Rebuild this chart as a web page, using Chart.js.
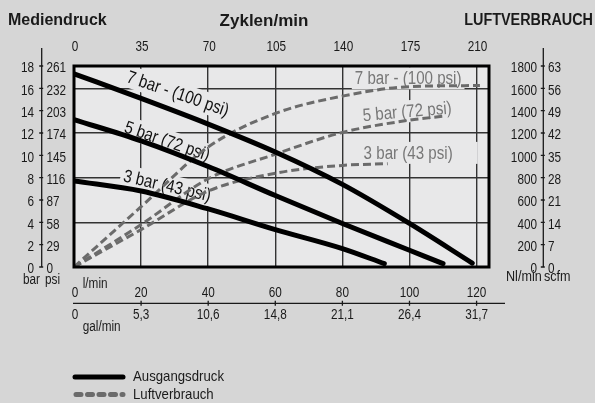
<!DOCTYPE html>
<html>
<head>
<meta charset="utf-8">
<script src="https://cdn.jsdelivr.net/npm/chart.js@4.4.1/dist/chart.umd.min.js"></script>
<style>
  html, body { margin: 0; padding: 0; background: #d6d6d6; }
  #chart { display: block; }
</style>
</head>
<body>
<canvas id="chart" width="595" height="403"></canvas>
<script>
// Achsen
const flowTicks = [0, 20, 40, 60, 80, 100, 120];
const galTicks = ["0", "5,3", "10,6", "14,8", "21,1", "26,4", "31,7"];
const cycleTicks = [0, 35, 70, 105, 140, 175, 210];
const barTicks = [0, 2, 4, 6, 8, 10, 12, 14, 16, 18];
const psiTicks = [0, 29, 58, 87, 116, 145, 174, 203, 232, 261];
const nlTicks = [0, 200, 400, 600, 800, 1000, 1200, 1400, 1600, 1800];
const scfmTicks = [0, 7, 14, 21, 28, 35, 42, 49, 56, 63];
const gridBar = [0, 4, 8, 12, 16];

// Ausgangsdruck (l/min -> bar)
const druck7Flow = [0, 20, 40, 60, 80, 100, 118.7];
const druck7Bar = [17.3, 15.1, 12.8, 10.3, 7.4, 3.9, 0.35];
const druck5Flow = [0, 20, 40, 60, 80, 100, 110];
const druck5Bar = [13.2, 11.3, 9.0, 6.4, 3.9, 1.5, 0.3];
const druck3Flow = [0, 20, 40, 60, 80, 92.5];
const druck3Bar = [7.7, 6.8, 5.2, 3.35, 1.65, 0.3];

// Luftverbrauch (l/min -> Nl/min)
const luft7Flow = [0, 20, 40, 60, 80, 100, 121];
const luft7Nl = [0, 540, 1075, 1375, 1530, 1615, 1625];
const luft5Flow = [0, 20, 40, 60, 80, 100, 110];
const luft5Nl = [0, 380, 790, 1010, 1205, 1315, 1350];
const luft3Flow = [0, 20, 40, 60, 80, 93.5];
const luft3Nl = [0, 335, 680, 840, 910, 925];

const seriesNames = ["Ausgangsdruck", "Luftverbrauch"];

const X_MAX = 123.7;
const SANS = '"Liberation Sans", Arial, sans-serif';
const SX = 0.84; // schmale Schrift nachbilden
const PAGE_BG = "#d6d6d6";
const PLOT_BG = "#e8e8e9";
const DASH_COLOR = "#6b6b6b";
const LABEL_COLOR = "#777777";
const TEXT = "#1a1a1a";

// Beschriftungen an den Kurven (in Datenkoordinaten)
const curveLabels = [
  { text: "7 bar - (100 psi)", flow: 31.0, value: 15.55, axis: "y", angle: 19, color: "#111" },
  { text: "5 bar (72 psi)", flow: 27.8, value: 11.3, axis: "y", angle: 19, color: "#111" },
  { text: "3 bar (43 psi)", flow: 27.8, value: 7.3, axis: "y", angle: 13, color: "#111" },
  { text: "7 bar - (100 psi)", flow: 99.6, value: 1690, axis: "y2", angle: 0, color: LABEL_COLOR },
  { text: "5 bar (72 psi)", flow: 99.3, value: 1394, axis: "y2", angle: -5, color: LABEL_COLOR },
  { text: "3 bar (43 psi)", flow: 99.6, value: 1022, axis: "y2", angle: 0, color: LABEL_COLOR, padRight: 22 },
];

function pts(xs, ys) {
  return xs.map((x, i) => ({ x, y: ys[i] }));
}

function solid(data) {
  return {
    data, yAxisID: "y", borderColor: "#000", borderWidth: 5,
    borderCapStyle: "round", pointRadius: 0, cubicInterpolationMode: "monotone", fill: false,
  };
}

function dashed(data) {
  return {
    data, yAxisID: "y2", borderColor: DASH_COLOR, borderWidth: 3, borderDash: [8, 4],
    pointRadius: 0, cubicInterpolationMode: "monotone", fill: false,
  };
}

function text(ctx, str, x, y, align, sx = SX) {
  ctx.save();
  ctx.translate(x, y);
  ctx.scale(sx, 1);
  ctx.textAlign = align;
  ctx.fillText(str, 0, 0);
  ctx.restore();
}

const deco = {
  id: "deco",
  beforeDraw(chart) {
    const { ctx, chartArea: a } = chart;
    ctx.save();
    ctx.fillStyle = PAGE_BG;
    ctx.fillRect(0, 0, chart.width, chart.height);
    ctx.fillStyle = PLOT_BG;
    ctx.fillRect(a.left, a.top, a.right - a.left, a.bottom - a.top);
    ctx.restore();
  },
  beforeDatasetsDraw(chart) {
    const { ctx } = chart;
    const xs = chart.scales.x;
    ctx.save();
    ctx.font = `18px ${SANS}`;
    ctx.textBaseline = "middle";
    curveLabels.forEach((l) => {
      const px = xs.getPixelForValue(l.flow);
      const py = chart.scales[l.axis].getPixelForValue(l.value);
      const w = ctx.measureText(l.text).width * SX;
      ctx.save();
      ctx.translate(px, py);
      ctx.rotate((l.angle * Math.PI) / 180);
      ctx.fillStyle = PLOT_BG;
      ctx.fillRect(-w / 2 - 3, -11, w + 6 + (l.padRight || 0), 22);
      ctx.fillStyle = l.color;
      text(ctx, l.text, 0, 1, "center");
      ctx.restore();
    });
    ctx.restore();
  },
  afterDatasetsDraw(chart) {
    const { ctx, chartArea: a } = chart;
    ctx.save();
    ctx.strokeStyle = "#000";
    ctx.lineWidth = 3;
    ctx.strokeRect(a.left, a.top, a.right - a.left, a.bottom - a.top);
    ctx.restore();
  },
  afterDraw(chart) {
    const { ctx } = chart;
    const xs = chart.scales.x;
    const cyc = chart.scales.cyc;
    const ys = chart.scales.y;
    const y2 = chart.scales.y2;
    ctx.save();
    ctx.fillStyle = TEXT;
    ctx.strokeStyle = TEXT;
    ctx.lineWidth = 1.3;
    ctx.textBaseline = "middle";

    // Titel
    ctx.font = `bold 16px ${SANS}`;
    text(ctx, "Mediendruck", 8, 21, "left", 1);
    ctx.font = `bold 17px ${SANS}`;
    text(ctx, "Zyklen/min", 264, 21, "center", 1);
    ctx.font = `bold 16px ${SANS}`;
    text(ctx, "LUFTVERBRAUCH", 593, 21, "right", 0.9);

    ctx.font = `14px ${SANS}`;

    // obere Achse: Zyklen/min
    cycleTicks.forEach((v) => {
      text(ctx, String(v), cyc.getPixelForValue(v) + 1, 47.5, "center");
    });

    // linke Achse: bar / psi
    const lx = 41.7;
    ctx.beginPath();
    ctx.moveTo(lx, 48);
    ctx.lineTo(lx, ys.bottom);
    barTicks.forEach((v) => {
      const py = ys.getPixelForValue(v);
      ctx.moveTo(lx - 2.5, py);
      ctx.lineTo(lx + 1.5, py);
    });
    ctx.stroke();
    barTicks.forEach((v, i) => {
      const py = ys.getPixelForValue(v) + 2.5;
      text(ctx, String(v), 34, py, "right");
      text(ctx, String(psiTicks[i]), 46.5, py, "left");
    });
    text(ctx, "bar", 40, 280, "right");
    text(ctx, "psi", 45, 280, "left");

    // rechte Achse: Nl/min / scfm
    const rx = 543.3;
    ctx.beginPath();
    ctx.moveTo(rx, 48);
    ctx.lineTo(rx, y2.bottom);
    nlTicks.forEach((v) => {
      const py = y2.getPixelForValue(v);
      ctx.moveTo(rx - 2.5, py);
      ctx.lineTo(rx + 1.5, py);
    });
    ctx.stroke();
    nlTicks.forEach((v, i) => {
      const py = y2.getPixelForValue(v) + 2.5;
      text(ctx, String(v), 537, py, "right");
      text(ctx, String(scfmTicks[i]), 548, py, "left");
    });
    text(ctx, "Nl/min", 541.7, 277, "right", 0.9);
    text(ctx, "scfm", 544, 277, "left", 0.9);

    // untere Achse: l/min / gal/min
    const by = 303.3;
    ctx.beginPath();
    ctx.moveTo(xs.left - 1, by);
    ctx.lineTo(505, by);
    flowTicks.forEach((v) => {
      if (v === 0) return;
      const px = xs.getPixelForValue(v);
      ctx.moveTo(px, by - 2.5);
      ctx.lineTo(px, by + 2.5);
    });
    ctx.stroke();
    flowTicks.forEach((v, i) => {
      const px = xs.getPixelForValue(v) + (v === 0 ? 1 : 0);
      text(ctx, String(v), px, 293.5, "center");
      text(ctx, galTicks[i], px, 315, "center");
    });
    text(ctx, "l/min", 82.7, 284, "left");
    text(ctx, "gal/min", 82.7, 327, "left");

    // Legende
    ctx.lineCap = "round";
    ctx.strokeStyle = "#000";
    ctx.lineWidth = 5;
    ctx.beginPath();
    ctx.moveTo(75, 377);
    ctx.lineTo(123, 377);
    ctx.stroke();
    ctx.strokeStyle = DASH_COLOR;
    ctx.setLineDash([5, 6.5]);
    ctx.beginPath();
    ctx.moveTo(76, 394.5);
    ctx.lineTo(123, 394.5);
    ctx.stroke();
    ctx.setLineDash([]);
    ctx.font = `15px ${SANS}`;
    text(ctx, seriesNames[0], 133, 377, "left", 0.88);
    text(ctx, seriesNames[1], 133, 394.5, "left", 0.88);
    ctx.restore();
  },
};

new Chart(document.getElementById("chart"), {
  type: "line",
  data: {
    datasets: [
      solid(pts(druck7Flow, druck7Bar)),
      solid(pts(druck5Flow, druck5Bar)),
      solid(pts(druck3Flow, druck3Bar)),
      dashed(pts(luft7Flow, luft7Nl)),
      dashed(pts(luft5Flow, luft5Nl)),
      dashed(pts(luft3Flow, luft3Nl)),
    ],
  },
  options: {
    responsive: false,
    animation: false,
    devicePixelRatio: 1,
    layout: { padding: { left: 74, right: 106, top: 66, bottom: 136 } },
    plugins: { legend: { display: false }, tooltip: { enabled: false } },
    scales: {
      x: {
        type: "linear", min: 0, max: X_MAX,
        afterBuildTicks: (s) => { s.ticks = flowTicks.map((v) => ({ value: v })); },
        grid: { color: "#333", lineWidth: 1.4, drawTicks: false },
        border: { display: false },
        ticks: { display: false },
      },
      cyc: {
        type: "linear", position: "top", min: 0, max: (X_MAX * 210) / 120, display: false,
      },
      y: {
        min: 0, max: 18,
        afterBuildTicks: (s) => { s.ticks = gridBar.map((v) => ({ value: v })); },
        grid: { color: "#333", lineWidth: 1.4, drawTicks: false },
        border: { display: false },
        ticks: { display: false },
      },
      y2: {
        position: "right", min: 0, max: 1800, display: false,
      },
    },
  },
  plugins: [deco],
});
</script>
</body>
</html>
